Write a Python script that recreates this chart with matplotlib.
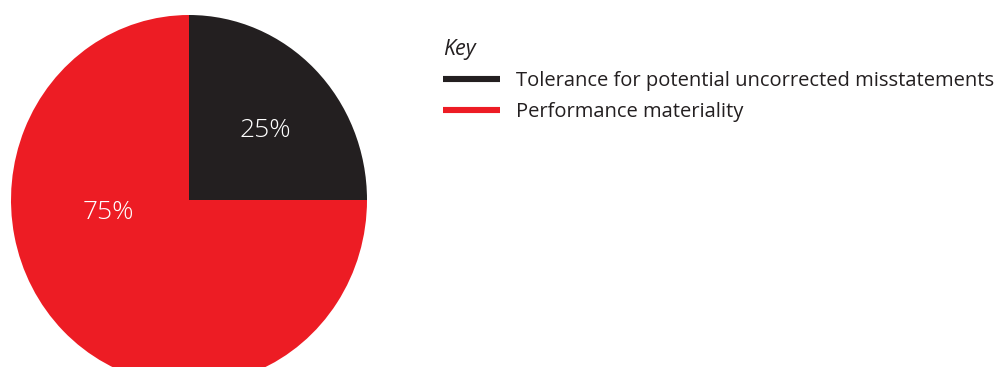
import matplotlib
matplotlib.use('Agg')
import matplotlib.pyplot as plt
from matplotlib.lines import Line2D

# data
labels = ["Tolerance for potential uncorrected misstatements", "Performance materiality"]
shares = [25, 75]
colors = ["#231f20", "#ed1c24"]
pct_labels = [f"{s}%" for s in shares]

plt.rcParams['font.family'] = ['Open Sans', 'DejaVu Sans']

W, H = 995, 367
fig = plt.figure(figsize=(W / 100, H / 100), dpi=100)

# pie axes placed in pixel terms (bottom runs off the figure)
px_l, px_r, px_t, px_b = 11, 367, 15, 385
ax = fig.add_axes([px_l / W, (H - px_b) / H, (px_r - px_l) / W, (px_b - px_t) / H])
wedges, _ = ax.pie(shares, colors=colors, startangle=90, counterclock=False, radius=1)
ax.set_aspect('auto')
ax.set_xlim(-1, 1)
ax.set_ylim(-1, 1)
ax.axis('off')

# percentage labels, placed by hand like the original
label_pos = [(0.427, 0.373), (-0.455, -0.07)]
for txt, (x, y) in zip(pct_labels, label_pos):
    ax.text(x, y, txt, color="white", fontsize=19, fontweight="light",
            ha="center", va="center")

handles = [Line2D([0], [0], color=c, lw=4.4, solid_capstyle='butt') for c in colors]
leg = fig.legend(handles, labels, loc='upper left', bbox_to_anchor=(443 / W, 1 - 39 / H),
                 frameon=False, fontsize=14.5, title="Key", alignment='left',
                 title_fontproperties=dict(size=15.5, style='italic'),
                 borderpad=0, borderaxespad=0, handlelength=2.83, handletextpad=0.8,
                 labelspacing=0.55)
for t in leg.get_texts():
    t.set_color("#231f20")
leg.get_title().set_color("#231f20")

fig.savefig("out.png", dpi=100)
